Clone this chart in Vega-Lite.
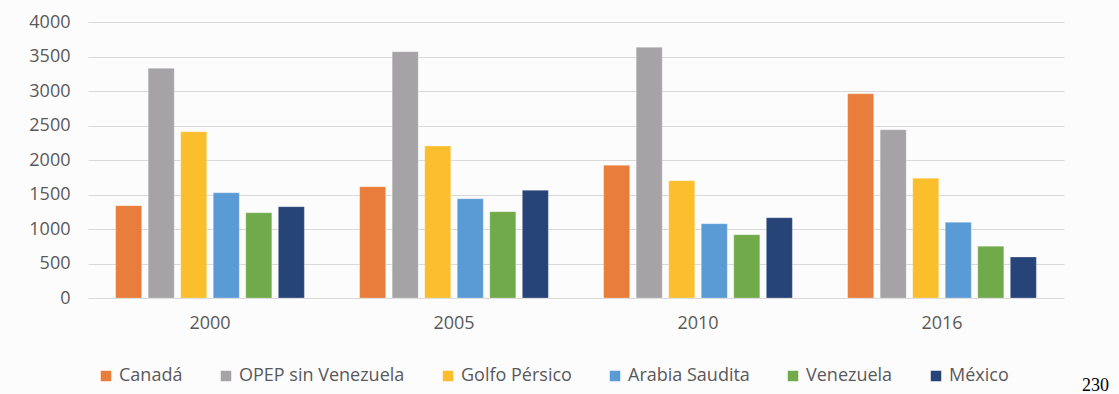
{
  "$schema": "https://vega.github.io/schema/vega-lite/v6.json",
  "width": 976,
  "height": 276,
  "autosize": {"type": "none"},
  "padding": {"left": 88, "top": 22, "right": 55, "bottom": 96},
  "background": "#fdfcfd",
  "title": {
    "text": "230",
    "orient": "bottom",
    "anchor": "end",
    "font": "Liberation Serif",
    "fontSize": 18,
    "fontWeight": "normal",
    "color": "#000000",
    "dx": 45,
    "dy": -22,
    "offset": 14
  },
  "data": {
    "values": [
      {"year": "2000", "serie": "Canadá", "v": 1338},
      {"year": "2000", "serie": "OPEP sin Venezuela", "v": 3329},
      {"year": "2000", "serie": "Golfo Pérsico", "v": 2410},
      {"year": "2000", "serie": "Arabia Saudita", "v": 1526},
      {"year": "2000", "serie": "Venezuela", "v": 1236},
      {"year": "2000", "serie": "México", "v": 1323},
      {"year": "2005", "serie": "Canadá", "v": 1613},
      {"year": "2005", "serie": "OPEP sin Venezuela", "v": 3570},
      {"year": "2005", "serie": "Golfo Pérsico", "v": 2203},
      {"year": "2005", "serie": "Arabia Saudita", "v": 1439},
      {"year": "2005", "serie": "Venezuela", "v": 1251},
      {"year": "2005", "serie": "México", "v": 1560},
      {"year": "2010", "serie": "Canadá", "v": 1923},
      {"year": "2010", "serie": "OPEP sin Venezuela", "v": 3633},
      {"year": "2010", "serie": "Golfo Pérsico", "v": 1700},
      {"year": "2010", "serie": "Arabia Saudita", "v": 1077},
      {"year": "2010", "serie": "Venezuela", "v": 917},
      {"year": "2010", "serie": "México", "v": 1164},
      {"year": "2016", "serie": "Canadá", "v": 2961},
      {"year": "2016", "serie": "OPEP sin Venezuela", "v": 2439},
      {"year": "2016", "serie": "Golfo Pérsico", "v": 1734},
      {"year": "2016", "serie": "Arabia Saudita", "v": 1097},
      {"year": "2016", "serie": "Venezuela", "v": 749},
      {"year": "2016", "serie": "México", "v": 594}
    ]
  },
  "mark": {"type": "bar", "stroke": "#ffffff", "strokeOpacity": 0.5, "strokeWidth": 0.5},
  "encoding": {
    "x": {
      "field": "year",
      "type": "nominal",
      "scale": {"paddingInner": 0.2, "paddingOuter": 0.1},
      "axis": {
        "title": null,
        "labelAngle": 0,
        "labelFont": "Open Sans",
        "labelFontSize": 18,
        "labelColor": "#595959",
        "labelPadding": 16,
        "ticks": false,
        "domain": false
      }
    },
    "xOffset": {
      "field": "serie",
      "type": "nominal",
      "sort": ["Canadá", "OPEP sin Venezuela", "Golfo Pérsico", "Arabia Saudita", "Venezuela", "México"],
      "scale": {"paddingInner": 0.2, "paddingOuter": 0.1}
    },
    "y": {
      "field": "v",
      "type": "quantitative",
      "scale": {"domain": [0, 4000]},
      "axis": {
        "title": null,
        "format": "d",
        "values": [0, 500, 1000, 1500, 2000, 2500, 3000, 3500, 4000],
        "labelFont": "Open Sans",
        "labelFontSize": 18,
        "labelColor": "#595959",
        "labelPadding": 18,
        "ticks": false,
        "domain": false,
        "gridColor": "#d9d9d9",
        "gridWidth": 1.2
      }
    },
    "color": {
      "field": "serie",
      "type": "nominal",
      "sort": ["Canadá", "OPEP sin Venezuela", "Golfo Pérsico", "Arabia Saudita", "Venezuela", "México"],
      "scale": {
        "domain": ["Canadá", "OPEP sin Venezuela", "Golfo Pérsico", "Arabia Saudita", "Venezuela", "México"],
        "range": ["#e97d3b", "#a5a3a6", "#fbbe2d", "#5b9bd5", "#70aa4a", "#264478"]
      },
      "legend": {
        "title": null,
        "orient": "none",
        "direction": "horizontal",
        "legendX": 9,
        "legendY": 345,
        "symbolType": "square",
        "symbolSize": 110,
        "symbolStrokeWidth": 0,
        "labelFont": "Open Sans",
        "labelFontSize": 18,
        "labelColor": "#595959",
        "labelOffset": 4,
        "labelLimit": 400,
        "columnPadding": 34
      }
    }
  },
  "config": {"view": {"stroke": null}}
}
